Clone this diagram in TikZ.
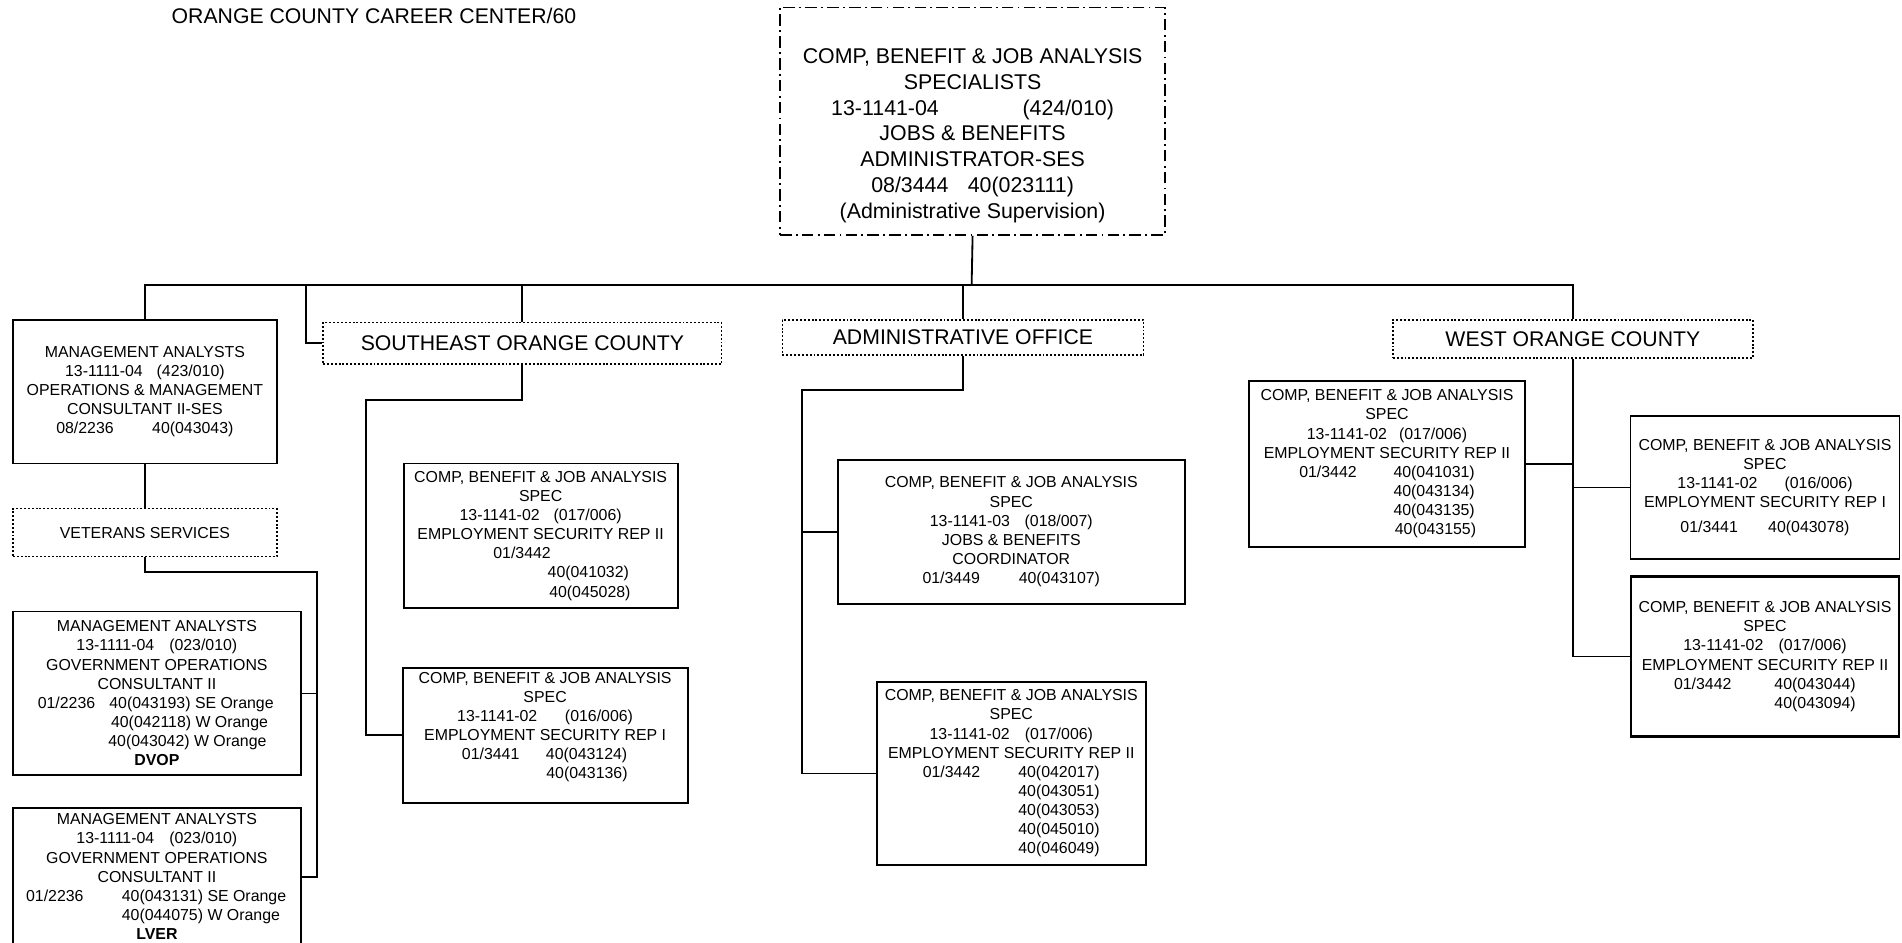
\documentclass[tikz,border=0pt]{standalone}
\usepackage{fontspec}
\setmainfont{Liberation Sans}
\usetikzlibrary{positioning}

% a line of a centred node that starts #1 right of the centre
\newcommand{\shifted}[2]{\makebox[0pt][l]{\hspace*{#1}#2}}

\tikzset{
  post/.style = {
    draw, line width=1.5pt, align=center, inner sep=0pt, anchor=north west,
    font=\fontsize{13.1pt}{15.8pt}\selectfont
  },
  heavypost/.style = {post, line width=2.2pt},
  office/.style = {
    draw, line width=1.3pt, dash pattern=on 1.6pt off 1.6pt, align=center, inner sep=0pt,
    anchor=north west, font=\fontsize{17.5pt}{21pt}\selectfont
  },
  supervisor/.style = {
    draw, line width=1.4pt, dash pattern=on 9.5pt off 3.5pt on 1.5pt off 3.5pt, align=center,
    inner sep=0pt, anchor=north west, font=\fontsize{17.6pt}{21.2pt}\selectfont
  },
  link/.style = {line width=1.5pt},
}

\begin{document}
\begin{tikzpicture}[x=1pt, y=-1pt]
    \useasboundingbox (0,0) rectangle (1568,777);

    \node[anchor=west, font=\fontsize{17.5pt}{21pt}\selectfont] (title) at (138,13) {ORANGE COUNTY CAREER CENTER/60};

    % supervising position on top
    \node[supervisor, minimum width=317.4pt, minimum height=187.5pt] (chief) at (642.4,5.5) {\strut\\
      COMP, BENEFIT \& JOB ANALYSIS\\
      SPECIALISTS\\
      13-1141-04\hspace{69pt}(424/010)\\
      JOBS \& BENEFITS\\
      ADMINISTRATOR-SES\\
      08/3444\hspace{16pt}40(023111)\\
      (Administrative Supervision)};

    % office headings
    \node[office, minimum width=328.6pt, minimum height=34.3pt] (sehead) at (265.7,265.2) {SOUTHEAST ORANGE COUNTY};
    \node[office, minimum width=297.6pt, minimum height=28.8pt] (admhead) at (644.4,263) {ADMINISTRATIVE OFFICE};
    \node[office, minimum width=296.8pt, minimum height=31.6pt] (westhead) at (1147.6,263) {WEST ORANGE COUNTY};

    % left column
    \node[post, minimum width=217.6pt, minimum height=118.4pt] (mgmt) at (9.9,263) {MANAGEMENT ANALYSTS\\
      13-1111-04\hspace{11.4pt}(423/010)\\
      OPERATIONS \& MANAGEMENT\\
      CONSULTANT II-SES\\
      08/2236\hspace{31.7pt}40(043043)};

    \node[office, below=35.8pt of mgmt, minimum width=217.6pt, minimum height=39.5pt,
      font=\fontsize{13.1pt}{15.8pt}\selectfont] (vets) {VETERANS SERVICES};

    \node[post, minimum width=237.4pt, minimum height=135pt] (dvop) at (9.9,503.4) {MANAGEMENT ANALYSTS\\
      13-1111-04\hspace{12.4pt}(023/010)\\
      GOVERNMENT OPERATIONS\\
      CONSULTANT II\\
      \shifted{-98.2pt}{\makebox[59pt][l]{01/2236}40(043193) SE Orange}\\
      \shifted{-37.8pt}{40(042118) W Orange}\\
      \shifted{-40pt}{40(043042) W Orange}\\
      \textbf{DVOP}};

    \node[post, below=25.2pt of dvop, minimum width=237.4pt, minimum height=113.8pt] (lver) {MANAGEMENT ANALYSTS\\
      13-1111-04\hspace{12.4pt}(023/010)\\
      GOVERNMENT OPERATIONS\\
      CONSULTANT II\\
      \shifted{-107.8pt}{\makebox[78.9pt][l]{01/2236}40(043131) SE Orange}\\
      \shifted{-28.9pt}{40(044075) W Orange}\\
      \textbf{LVER}};

    % southeast orange county
    \node[post, minimum width=225.9pt, minimum height=118.8pt] (se1) at (332,381.4) {COMP, BENEFIT \& JOB ANALYSIS\\
      SPEC\\
      13-1141-02\hspace{11.5pt}(017/006)\\
      EMPLOYMENT SECURITY REP II\\
      \shifted{-39pt}{01/3442}\\
      \shifted{5.8pt}{40(041032)}\\
      \shifted{7.1pt}{40(045028)}};

    \node[post, minimum width=234.9pt, minimum height=111.3pt] (se2) at (331.2,549.6) {COMP, BENEFIT \& JOB ANALYSIS\\
      SPEC\\
      13-1141-02\hspace{22.8pt}(016/006)\\
      EMPLOYMENT SECURITY REP I\\
      \shifted{-68.6pt}{\makebox[69.3pt][l]{01/3441}40(043124)}\\
      \shifted{1pt}{40(043136)}\\
      \mbox{}};

    % administrative office
    \node[post, minimum width=286.3pt, minimum height=118.2pt] (adm1) at (689.8,378.7) {COMP, BENEFIT \& JOB ANALYSIS\\
      SPEC\\
      13-1141-03\hspace{12.1pt}(018/007)\\
      JOBS \& BENEFITS\\
      COORDINATOR\\
      01/3449\hspace{32pt}40(043107)};

    \node[post, below=62.9pt of adm1, minimum width=222pt, minimum height=151.1pt] (adm2) {COMP, BENEFIT \& JOB ANALYSIS\\
      SPEC\\
      13-1141-02\hspace{12.6pt}(017/006)\\
      EMPLOYMENT SECURITY REP II\\
      \shifted{-73pt}{\makebox[78.8pt][l]{01/3442}40(042017)}\\
      \shifted{5.8pt}{40(043051)}\\
      \shifted{5.8pt}{40(043053)}\\
      \shifted{5.8pt}{40(045010)}\\
      \shifted{5.8pt}{40(046049)}};

    % west orange county
    \node[post, minimum width=227.5pt, minimum height=136.8pt] (wst1) at (1028.9,313.3) {COMP, BENEFIT \& JOB ANALYSIS\\
      SPEC\\
      13-1141-02\hspace{10pt}(017/006)\\
      EMPLOYMENT SECURITY REP II\\
      \shifted{-72.3pt}{\makebox[77.7pt][l]{01/3442}40(041031)}\\
      \shifted{5.4pt}{40(043134)}\\
      \shifted{5.4pt}{40(043135)}\\
      \shifted{6.5pt}{40(043155)}};

    \node[post, minimum width=221.8pt, minimum height=118.3pt] (wst2) at (1343.4,342) {COMP, BENEFIT \& JOB ANALYSIS\\
      SPEC\\
      13-1141-02\hspace{22.3pt}(016/006)\\
      EMPLOYMENT SECURITY REP I\\[5pt]
      01/3441\hspace{25pt}40(043078)};

    \node[heavypost, below=12.4pt of wst2, minimum width=220.7pt, minimum height=131.9pt] (wst3) {COMP, BENEFIT \& JOB ANALYSIS\\
      SPEC\\
      13-1141-02\hspace{12.6pt}(017/006)\\
      EMPLOYMENT SECURITY REP II\\
      \shifted{-75pt}{\makebox[82.8pt][l]{01/3442}40(043044)}\\
      \shifted{7.8pt}{40(043094)}};

    % bus and drops
    \coordinate (bus) at (801,235);
    \coordinate (setap) at (252.3,235);
    \coordinate (sebend) at (301.8,329.5);
    \coordinate (admbend) at (660.9,321.5);
    \coordinate (vetsbend) at (261,471.3);

    \draw[link] (chief.south) -- (bus);
    \draw[link] (mgmt.north) |- (bus) -| (westhead.north);
    \draw[link] (setap) |- (sehead.west);
    \draw[link] (sehead.north) -- (sehead.north |- bus);
    \draw[link] (admhead.north) -- (admhead.north |- bus);

    % branches under each heading
    \draw[link] (mgmt.south) -- (vets.north);
    \draw[link] (vets.south) |- (vetsbend) |- (lver.east);
    \draw[link] (dvop.east) -- (dvop.east -| vetsbend);

    \draw[link] (sehead.south) |- (sebend) |- (se2.west);

    \draw[link] (admhead.south) |- (admbend) |- (adm2.west);
    \draw[link] (adm1.west) -- (adm1.west -| admbend);

    \draw[link] (westhead.south) |- (wst3.west);
    \draw[link] (wst1.east) -- (wst1.east -| westhead.south);
    \draw[link] (wst2.west) -- (wst2.west -| westhead.south);

  \end{tikzpicture}
\end{document}
